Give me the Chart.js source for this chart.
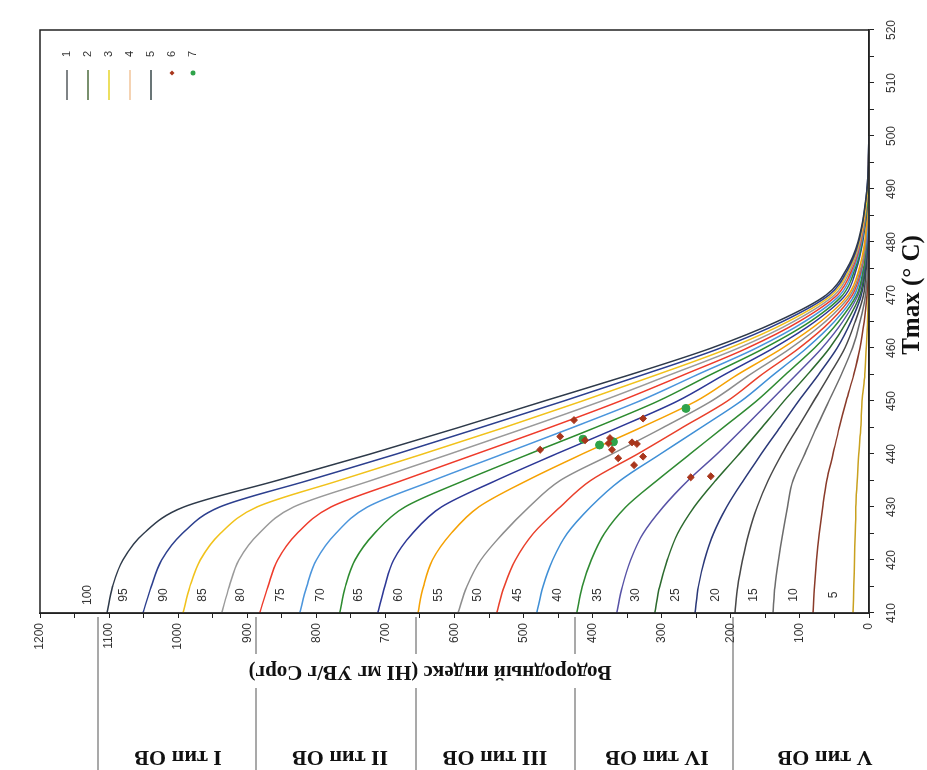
<!DOCTYPE html>
<html lang="ru">
<head>
<meta charset="UTF-8">
<title>Tmax – HI</title>
<script src="https://cdn.jsdelivr.net/npm/chart.js"></script>
<style>
  body { margin: 0; background: #fff; overflow: hidden; }
  /* the chart is drawn upright and then turned a quarter turn to the left */
  #wrap {
    position: absolute; left: 0; top: 0;
    width: 770px; height: 927px;
    transform-origin: 0 0;
    transform: translate(0, 770px) rotate(-90deg);
  }
</style>
</head>
<body>
<div id="wrap"><canvas id="myChart" width="770" height="927"></canvas></div>
<script>
const tmaxGrid = [410, 415, 420, 425, 430, 435, 440, 445, 450, 455, 460, 465, 470, 475, 480, 490, 500];

// isoline labels
const curveLabels = [100, 95, 90, 85, 80, 75, 70, 65, 60, 55, 50, 45, 40, 35, 30, 25, 20, 15, 10, 5];

// HI (mg HC/g TOC) of each isoline at tmaxGrid
const hi100 = [1103, 1095, 1080, 1050, 992, 857, 722, 594, 470, 345, 228, 133, 62, 32, 16, 3, 0];
const hi95  = [1051, 1039, 1024, 994, 940, 812, 684, 562, 442, 326, 215, 125, 58, 30, 15, 3, 0];
const hi90  = [993, 983, 968, 939, 886, 767, 646, 528, 415, 306, 202, 117, 54, 28, 14, 2, 0];
const hi85  = [937, 926, 912, 883, 833, 721, 607, 495, 387, 287, 189, 109, 50, 26, 13, 2, 0];
const hi80  = [882, 870, 856, 828, 779, 676, 569, 462, 360, 267, 176, 101, 46, 24, 12, 2, 0];
const hi75  = [824, 814, 800, 772, 726, 631, 530, 429, 332, 248, 163, 93, 42, 22, 11, 2, 0];
const hi70  = [766, 758, 744, 716, 672, 586, 492, 396, 305, 229, 151, 85, 38, 20, 10, 1, 0];
const hi65  = [711, 701, 688, 661, 619, 540, 453, 363, 277, 209, 138, 78, 34, 18, 9, 1, 0];
const hi60  = [653, 645, 632, 605, 565, 495, 415, 330, 250, 190, 125, 70, 30, 14, 6, 1, 0];
const hi55  = [595, 582, 562, 530, 492, 447, 372, 298, 228, 172, 113, 63, 27, 12, 5, 1, 0];
const hi50  = [539, 528, 512, 486, 447, 403, 335, 270, 205, 155, 101, 56, 24, 11, 5, 1, 0];
const hi45  = [481, 472, 458, 437, 403, 360, 302, 243, 185, 138, 90, 50, 21, 10, 4, 0, 0];
const hi40  = [423, 415, 402, 383, 352, 307, 259, 211, 163, 121, 79, 44, 18, 8, 4, 0, 0];
const hi35  = [365, 357, 345, 327, 298, 262, 220, 181, 143, 105, 68, 38, 16, 7, 3, 0, 0];
const hi30  = [310, 303, 292, 277, 253, 222, 188, 155, 123, 89, 57, 32, 13, 6, 3, 0, 0];
const hi25  = [252, 247, 238, 225, 206, 182, 156, 129, 102, 73, 46, 26, 11, 5, 2, 0, 0];
const hi20  = [194, 190, 183, 174, 162, 146, 126, 103, 80, 57, 35, 20, 8, 4, 2, 0, 0];
const hi15  = [139, 136, 131, 125, 118, 110, 93, 76, 58, 40, 24, 13, 5, 2, 1, 0, 0];
const hi10  = [81, 79, 76, 72, 67, 61, 52, 43, 33, 22, 13, 7, 3, 1, 0, 0, 0];
const hi5   = [23, 22, 21, 20, 19, 17, 15, 12, 10, 6, 4, 2, 1, 0, 0, 0, 0];
const hiCurves = [hi100, hi95, hi90, hi85, hi80, hi75, hi70, hi65, hi60, hi55,
                  hi50, hi45, hi40, hi35, hi30, hi25, hi20, hi15, hi10, hi5];

const curveColors = ['#2e3a4a', '#2c3f8e', '#f1c21b', '#9a9a9a', '#ee3b2b', '#4b95dc', '#2d8b2f',
                     '#2d3896', '#f5a103', '#8d8d8d', '#e9402b', '#3f8fd6', '#2f8a32', '#5752a6',
                     '#2c6a2e', '#2a3878', '#474747', '#6c6c6c', '#8a3b2a', '#c9a11f'];

// samples (6) and (7)
const s6Tmax = [446.4, 443.3, 440.8, 446.7, 442.6, 443.0, 442.0, 440.8, 442.2, 441.9, 439.2, 439.5, 437.9, 435.6, 435.8];
const s6HI   = [427, 447, 476, 327, 411, 375, 377, 372, 343, 336, 363, 327, 340, 258, 229];
const s7Tmax = [442.8, 441.7, 442.3, 448.6];
const s7HI   = [414, 390, 370, 265];

const legendLabels = ['1', '2', '3', '4', '5', '6', '7'];
const legendColors = ['#555a5e', '#4d6b3c', '#e6d52a', '#f2c49a', '#37474a', '#a8361c', '#2fa34a'];

const oilTypes = ['I тип ОВ', 'II тип ОВ', 'III тип ОВ', 'IV тип ОВ', 'V тип ОВ'];
const xTitle = 'Tmax (° C)';
const yTitle = 'Водородный индекс (HI мг УВ/г Сорг)';

const datasets = [];
datasets.push({
    label: '6', type: 'scatter', order: -2,
    data: s6Tmax.map((t, i) => ({ x: t, y: s6HI[i] })),
    pointStyle: 'rectRot', pointRadius: 3.5, backgroundColor: '#a8361c', borderColor: '#a8361c'
});
datasets.push({
    label: '7', type: 'scatter', order: -1,
    data: s7Tmax.map((t, i) => ({ x: t, y: s7HI[i] })),
    pointStyle: 'circle', pointRadius: 4, backgroundColor: '#2fa34a', borderColor: '#2fa34a'
});
curveLabels.forEach((lab, k) => {
    datasets.push({
        label: String(lab),
        data: tmaxGrid.map((t, i) => ({ x: t, y: hiCurves[k][i] })),
        borderColor: curveColors[k], borderWidth: 1.5,
        pointRadius: 0, fill: false,
        cubicInterpolationMode: 'monotone'
    });
});

// frame, curve numbers, legend, titles and the OM type column
const extras = {
    id: 'extras',
    afterDraw(chart) {
        const ctx = chart.ctx;
        const area = chart.chartArea;
        const xs = chart.scales.x, ys = chart.scales.y;
        ctx.save();
        ctx.strokeStyle = '#222';
        ctx.lineWidth = 1.5;
        ctx.strokeRect(area.left, area.top, area.right - area.left, area.bottom - area.top);

        // curve numbers just above the start of each isoline
        ctx.fillStyle = '#333';
        ctx.font = '12px "Liberation Sans", Arial, sans-serif';
        ctx.textAlign = 'center';
        ctx.textBaseline = 'middle';
        curveLabels.forEach((lab, k) => {
            const py = ys.getPixelForValue(hiCurves[k][0]) - 19;
            ctx.fillText(String(lab), xs.getPixelForValue(413.4), py);
        });

        // legend
        ctx.font = '11px "Liberation Sans", Arial, sans-serif';
        legendLabels.forEach((lab, i) => {
            const y = area.top + 27 + i * 21;
            const x0 = area.right - 70;
            if (i < 5) {
                ctx.strokeStyle = legendColors[i];
                ctx.lineWidth = 1.5;
                ctx.beginPath(); ctx.moveTo(x0, y); ctx.lineTo(x0 + 30, y); ctx.stroke();
            } else {
                ctx.fillStyle = legendColors[i];
                ctx.beginPath();
                if (i === 5) {
                    ctx.moveTo(x0 + 27, y - 2.5); ctx.lineTo(x0 + 29.5, y);
                    ctx.lineTo(x0 + 27, y + 2.5); ctx.lineTo(x0 + 24.5, y);
                } else {
                    ctx.arc(x0 + 27, y, 2.5, 0, Math.PI * 2);
                }
                ctx.fill();
            }
            ctx.fillStyle = '#333';
            ctx.fillText(lab, area.right - 24, y);
        });

        // x title
        ctx.fillStyle = '#111';
        ctx.font = 'bold 25px "Liberation Serif", "Times New Roman", serif';
        ctx.fillText(xTitle, 475, 913);

        // y title with a white gap through the table lines
        ctx.font = 'bold 21px "Liberation Serif", "Times New Roman", serif';
        const tw = ctx.measureText(yTitle).width;
        const tx = 99, tyc = 430;
        const bounds = [98, 256, 416, 575, 733];
        ctx.strokeStyle = '#555';
        ctx.lineWidth = 1.2;
        bounds.forEach(b => {
            ctx.beginPath();
            if (b > tyc - tw / 2 - 6 && b < tyc + tw / 2 + 6) {
                ctx.moveTo(0, b); ctx.lineTo(tx - 17, b);
                ctx.moveTo(tx + 17, b); ctx.lineTo(153, b);
            } else {
                ctx.moveTo(0, b); ctx.lineTo(153, b);
            }
            ctx.stroke();
        });
        ctx.save();
        ctx.translate(tx, tyc);
        ctx.rotate(-Math.PI / 2);
        ctx.fillText(yTitle, 0, 0);
        ctx.restore();

        // OM types
        ctx.font = 'bold 22px "Liberation Serif", "Times New Roman", serif';
        const centers = [178, 340, 495, 657, 825];
        oilTypes.forEach((t, i) => {
            ctx.save();
            ctx.translate(13, centers[i]);
            ctx.rotate(-Math.PI / 2);
            ctx.fillText(t, 0, 0);
            ctx.restore();
        });
        ctx.restore();
    }
};

new Chart(document.getElementById('myChart').getContext('2d'), {
    type: 'line',
    data: { datasets: datasets },
    options: {
        responsive: false,
        animation: false,
        devicePixelRatio: 1,
        layout: { padding: { left: 0, top: 40, right: 30, bottom: 0 } },
        plugins: { legend: { display: false }, tooltip: { enabled: false } },
        scales: {
            x: {
                type: 'linear', min: 410, max: 520,
                afterFit: s => { s.height = 58; },
                grid: { drawOnChartArea: false, drawTicks: true, tickLength: 5, color: '#222' },
                border: { display: true, color: '#222', width: 1.5 },
                ticks: {
                    stepSize: 5, autoSkip: false, maxRotation: 0, padding: 10,
                    color: '#333', font: { family: '"Liberation Sans", Arial, sans-serif', size: 12 },
                    callback: v => (v % 10 === 0 ? v : '')
                }
            },
            y: {
                type: 'linear', min: 0, max: 1200,
                afterFit: s => { s.width = 157; },
                grid: { drawOnChartArea: false, drawTicks: true, tickLength: 5, color: '#222' },
                border: { display: true, color: '#222', width: 1.5 },
                ticks: {
                    stepSize: 50, autoSkip: false, padding: 5,
                    color: '#333', font: { family: '"Liberation Sans", Arial, sans-serif', size: 12 },
                    callback: v => (v % 100 === 0 ? v : '')
                }
            }
        }
    },
    plugins: [extras]
});
</script>
</body>
</html>
